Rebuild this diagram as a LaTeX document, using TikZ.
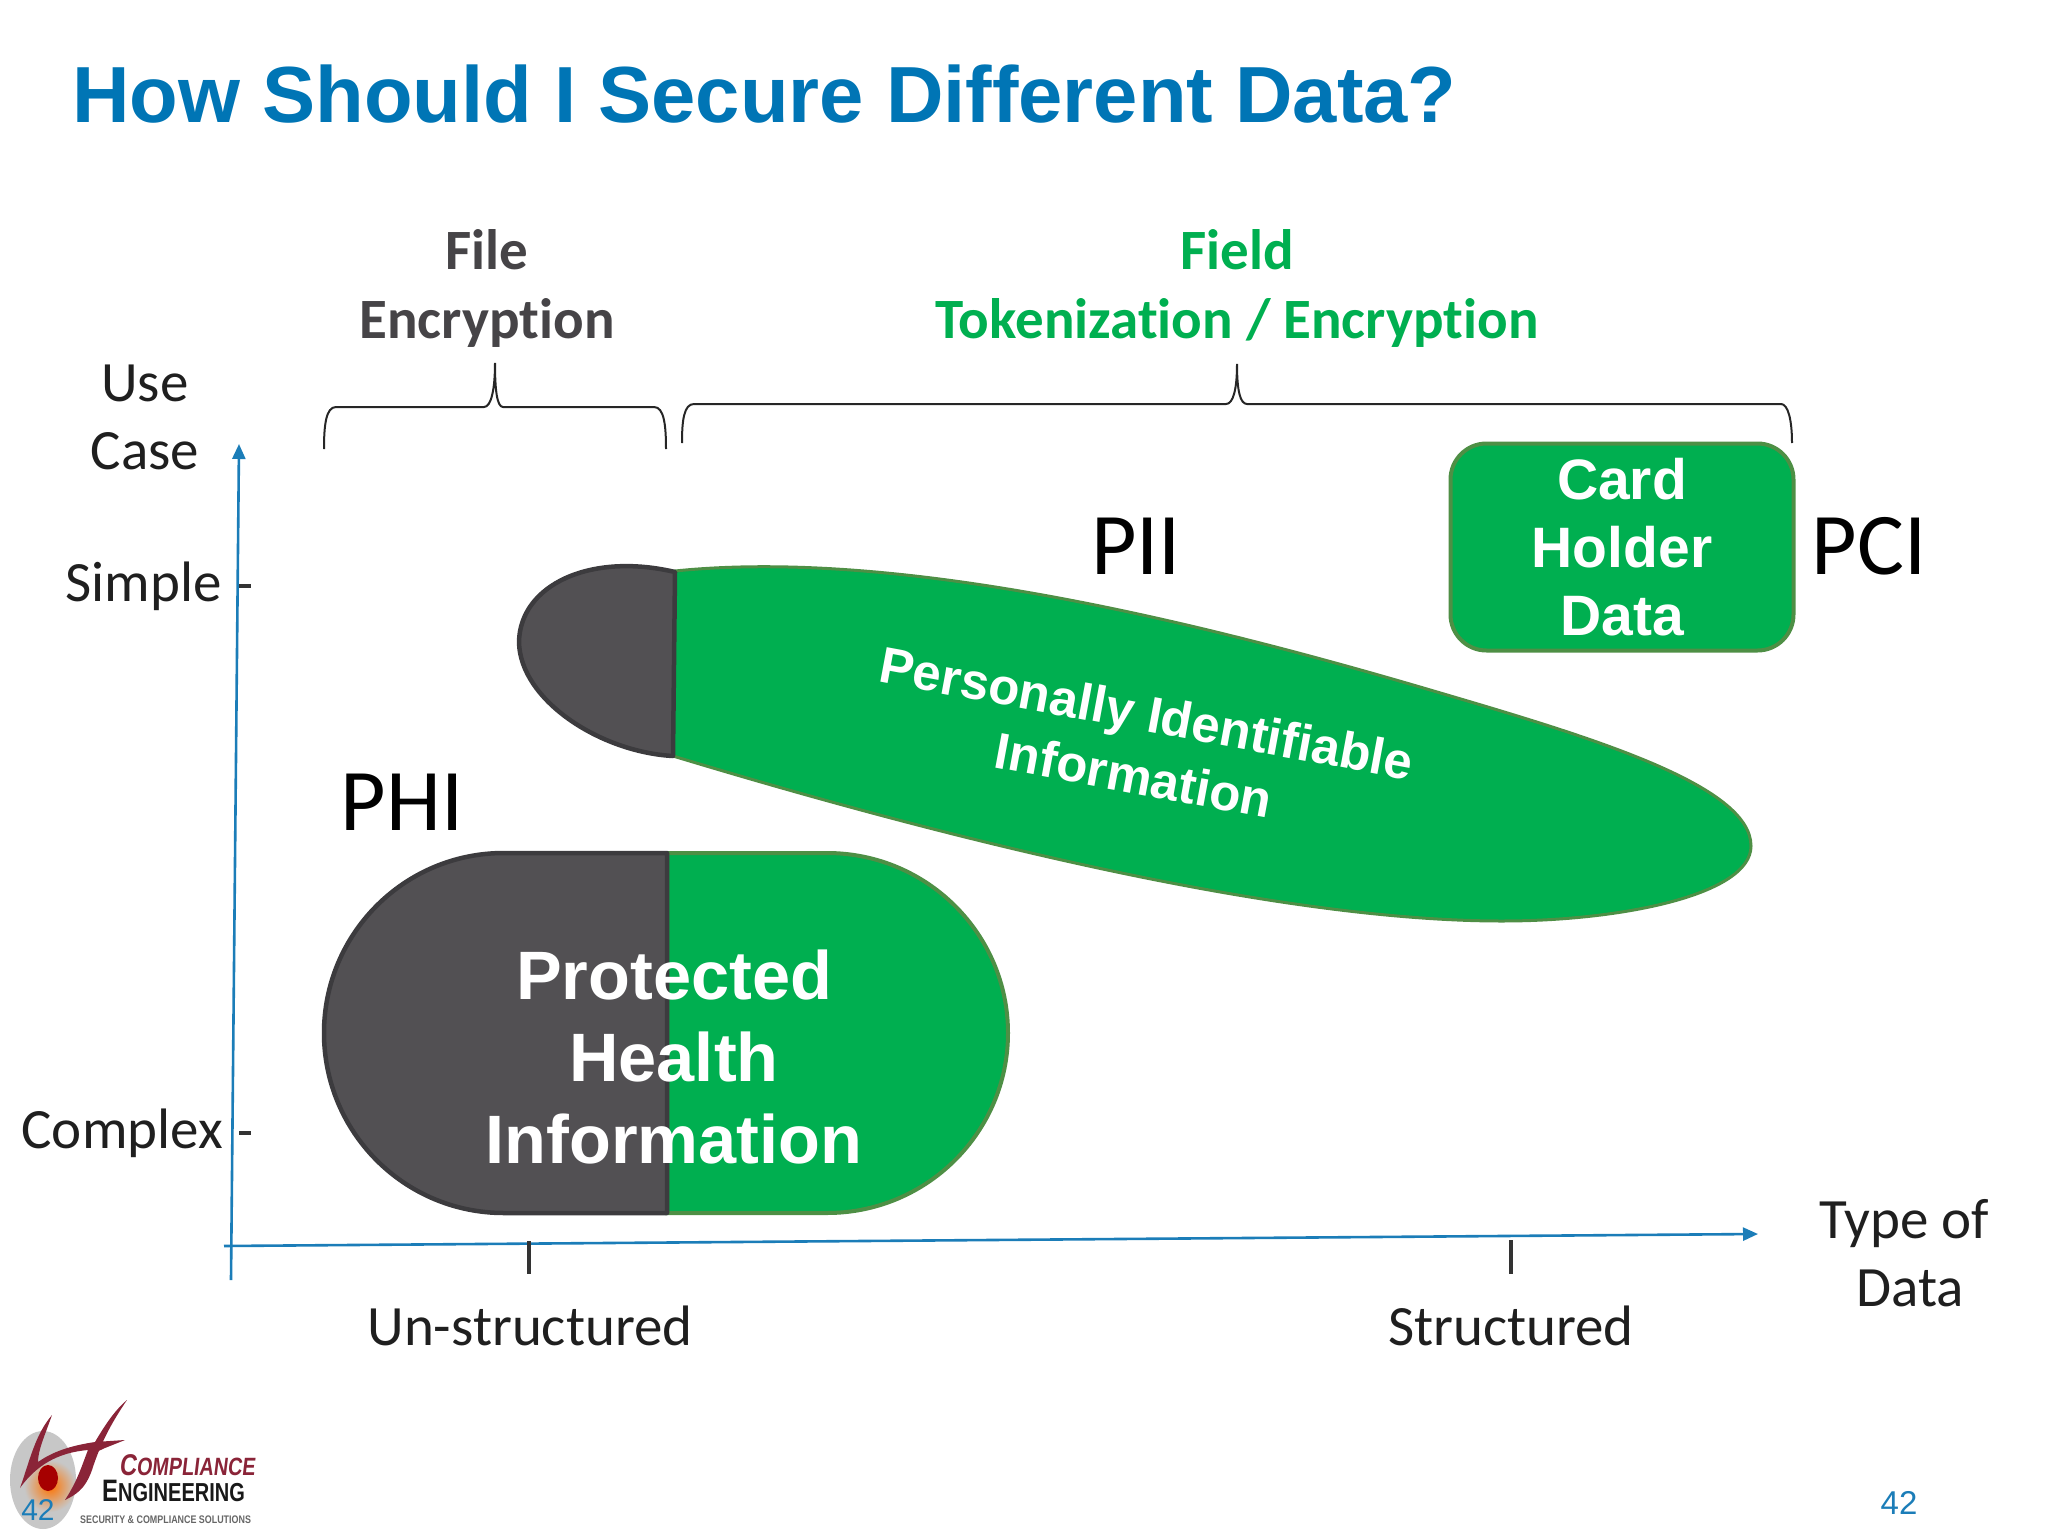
\documentclass[tikz,border=0pt]{standalone}
\usepackage{fontspec}
\setmainfont{Liberation Sans}
\newfontfamily\carl[Ligatures=NoCommon]{Carlito}
\definecolor{ttl}{HTML}{0075B5}
\definecolor{gr}{HTML}{00AF50}
\definecolor{grb}{HTML}{4E8F45}
\definecolor{dk}{HTML}{525053}
\definecolor{dkb}{HTML}{3C3B3E}
\definecolor{ax}{HTML}{1B7DB8}
\definecolor{lred}{HTML}{8A2438}
\usetikzlibrary{arrows.meta}
\tikzset{
  lab/.style={font=\carl\fontsize{57}{68}\selectfont,text=black!88,align=center,inner sep=0pt},
  big/.style={font=\carl\fontsize{88}{88}\selectfont,text=black,inner sep=0pt},
  head/.style={font=\carl\bfseries\fontsize{57}{69}\selectfont,align=center,inner sep=0pt},
  wt/.style={font=\bfseries\fontsize{#1}{#1}\selectfont,text=white,align=center,inner sep=0pt},
  brace/.style={draw=black!85,line width=2pt},
  axis/.style={draw=ax,line width=2.6pt,-{Triangle[length=15pt,width=13pt]}},
  tick/.style={draw=black!80,line width=3.2pt},
  pg/.style={font=\fontsize{#1}{#1}\selectfont,text=ax,inner sep=0pt},
  green/.style={fill=gr,draw=grb,line width=4pt},
  dark/.style={fill=dk,draw=dkb,line width=4.5pt,line join=round}
}
\begin{document}
\begin{tikzpicture}[x=1pt,y=-1pt]
\useasboundingbox (0,0) rectangle (2048,1536);
\node[anchor=west,inner sep=0pt,text=ttl,font=\bfseries\fontsize{79.6}{80}\selectfont] (title) at (72,94) {How Should I Secure Different Data?};
% headings
\node[head,text=dk!85!black] (file) at (487,288) {File\\Encryption};
\node[head,text=gr] (field) at (1237,288) {Field\\Tokenization / Encryption};
% braces
\draw[brace] (324,449) .. controls (324,425) and (326,407) .. (336,407) -- (484,407) .. controls (491,407) and (495,390) .. (495,363) .. controls (495,390) and (497,407) .. (503,407) -- (654,407) .. controls (664,407) and (666,425) .. (666,449);
\draw[brace] (682,443) .. controls (682,420) and (684,404) .. (694,404) -- (1226,404) .. controls (1233,404) and (1237,390) .. (1237,364) .. controls (1237,390) and (1240,404) .. (1247,404) -- (1781,404) .. controls (1788,404) and (1792,420) .. (1792,443);
% axes
\coordinate (y0) at (231,1280); \coordinate (y1) at (239,444);
\coordinate (x0) at (224,1246); \coordinate (x1) at (1758,1234);
\draw[axis] (y0) -- (y1);
\draw[axis] (x0) -- (x1);
% axis labels
\node[lab] (usecase) at (145,417) {Use\\Case};
\node[lab,anchor=east] (simple) at (222,586) {Simple};
\node[lab,anchor=east] (complex) at (223,1133) {Complex};
\node[lab] (typeof) at (1904,1253) {Type of\\\ Data};
\node[lab] (unstr) at (530,1326) {Un-structured};
\node[lab] (str) at (1511,1326) {Structured};
\coordinate (t1a) at (239,586); \coordinate (t1b) at (251,586);
\coordinate (t2a) at (239,1133); \coordinate (t2b) at (251,1133);
\coordinate (t3a) at (529,1241); \coordinate (t3b) at (529,1274);
\coordinate (t4a) at (1511,1240); \coordinate (t4b) at (1511,1274);
\draw[tick] (t1a) -- (t1b); \draw[tick] (t2a) -- (t2b);
\draw[tick] (t3a) -- (t3b); \draw[tick] (t4a) -- (t4b);
% card holder box
\node[green,rounded corners=36pt,minimum width=343pt,minimum height=207pt] (card) at (1622,547) {};
\node[wt=57] (c1) at (1622,479) {Card};
\node[wt=57] (c2) at (1622,547) {Holder};
\node[wt=57] (c3) at (1622,616) {Data};
\node[big] (pii) at (1136,546) {PII};
\node[big] (pci) at (1869,546) {PCI};
\node[big] (phi) at (402,802) {PHI};
% PII shape
\fill[gr,draw=grb,line width=3pt] (675,571) .. controls (900,548) and (1200,622) .. (1437,692)
  .. controls (1590,737) and (1751,785) .. (1751,846)
  .. controls (1751,895) and (1620,921) .. (1502,921)
  .. controls (1300,921) and (1000,855) .. (673,756) -- cycle;
\draw[dark] (675,572) .. controls (590,552) and (520,585) .. (519,642)
  .. controls (520,700) and (600,752) .. (673,756) -- cycle;
\node[wt=51,rotate=-10.5] (pii1) at (1146,718) {Personally Identifiable};
\node[wt=51,rotate=-10.5] (pii2) at (1134,775) {Information};
% PHI shape
\fill[gr,draw=grb,line width=4pt] (667,853) -- (827,853) .. controls (927,853) and (1008,934) .. (1008,1033) .. controls (1008,1132) and (927,1213) .. (827,1213) -- (667,1213) -- cycle;
\draw[dark] (667,853) -- (504,853) .. controls (404,853) and (324,934) .. (324,1033) .. controls (324,1132) and (404,1213) .. (504,1213) -- (667,1213) -- cycle;
\node[wt=68.5] (p1) at (674,975) {Protected};
\node[wt=68.5] (p2) at (674,1057) {Health};
\node[wt=68.5] (p3) at (674,1139) {Information};
% logo
\fill[black!22] (43,1480) ellipse[x radius=33,y radius=49];
\shade[inner color=orange!90!red,outer color=black!22] (50,1486) circle[radius=26];
\fill[red!65!black] (48,1478) ellipse[x radius=10,y radius=13];
\fill[lred] (127,1400) .. controls (110,1425) and (100,1445) .. (92,1470) .. controls (85,1490) and (75,1495) .. (65,1500) .. controls (78,1480) and (82,1465) .. (88,1450) .. controls (65,1452) and (40,1460) .. (20,1488) .. controls (30,1460) and (35,1435) .. (52,1415) .. controls (45,1435) and (38,1450) .. (38,1462) .. controls (55,1450) and (75,1445) .. (95,1442) .. controls (105,1425) and (115,1410) .. (127,1400) -- cycle;
\fill[lred] (95,1442) -- (125,1440) -- (105,1448) -- (90,1455) -- cycle;
\node[anchor=base west,inner sep=0pt,text=lred,xslant=0.12,transform shape] (lg1) at (119,1475) {\scalebox{0.79}[1]{\bfseries\fontsize{30}{30}\selectfont C\fontsize{25}{25}\selectfont OMPLIANCE}};
\node[anchor=base west,inner sep=0pt,text=black!90] (lg2) at (102,1501) {\scalebox{0.77}[1]{\bfseries\fontsize{31}{31}\selectfont E\fontsize{26}{26}\selectfont NGINEERING}};
\node[anchor=base west,inner sep=0pt,text=black!60] (lg3) at (80,1523) {\scalebox{0.81}[1]{\bfseries\fontsize{11}{11}\selectfont SECURITY \& COMPLIANCE SOLUTIONS}};
\node[pg=30] (n1) at (38,1510) {42};
\node[pg=33] (n2) at (1899,1503) {42};
\end{tikzpicture}
\end{document}
